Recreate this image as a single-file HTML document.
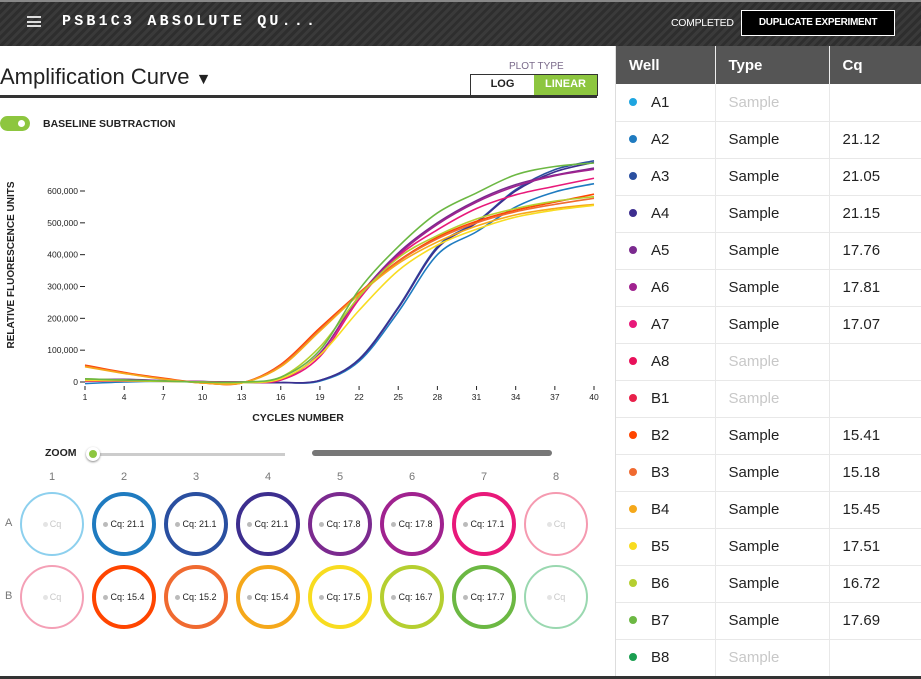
<!DOCTYPE html>
<html><head><meta charset="utf-8">
<style>
*{box-sizing:border-box;margin:0;padding:0}
body{width:921px;height:679px;overflow:hidden;background:#fff;font-family:"Liberation Sans",sans-serif;position:relative;color:#222}
.abs{position:absolute}
#topbar{left:0;top:0;width:921px;height:46px;background:repeating-linear-gradient(135deg,#2e2e2e 0 3px,#3a3a3a 3px 6px);border-top:2px solid #888}
#title{left:62px;top:13px;color:#fff;font-family:"Liberation Mono",monospace;font-weight:bold;font-size:15px;letter-spacing:3.2px}
#menu{left:27px;top:16px;width:14px;height:11px;border-top:2px solid #ddd;border-bottom:2px solid #ddd}
#menu:after{content:"";position:absolute;left:0;top:2.5px;width:14px;height:2px;background:#ddd}
#completed{left:671px;top:17px;color:#fff;font-size:10.5px;letter-spacing:-0.3px}
#dup{left:741px;top:10px;width:154px;height:26px;background:#000;border:1.5px solid #fff;color:#fff;font-weight:bold;font-size:10px;letter-spacing:-0.3px;text-align:center;line-height:23px}
#panel{left:615px;top:46px;width:306px;height:630px;border-left:1px solid #ddd}
table{border-collapse:collapse;width:306px;font-size:15px}
th{background:#555;color:#fff;height:38px;text-align:left;padding-left:13px;font-size:15px;border-right:1px solid #eee}
td{height:37px;border-bottom:1px solid #e8e8e8;border-right:1px solid #e8e8e8;padding-left:13px}
.dot{display:inline-block;width:8px;height:8px;border-radius:50%;margin-right:14px;vertical-align:1px}
.muted{color:#c8c8c8}
#bottomline{left:0;top:676px;width:921px;height:3px;background:#333}
</style></head><body>
<div id="topbar" class="abs"></div>
<div id="menu" class="abs"></div>
<div id="title" class="abs">PSB1C3 ABSOLUTE QU...</div>
<div id="completed" class="abs">COMPLETED</div>
<div id="dup" class="abs">DUPLICATE EXPERIMENT</div>

<div class="abs" style="left:0;top:64px;font-size:22px;color:#222">Amplification Curve <span style="font-size:16px">▼</span></div>
<div class="abs" style="left:0;top:95px;width:597px;height:3px;background:#333"></div>
<div class="abs" style="left:509px;top:61px;font-size:10px;color:#7a6a8a">PLOT TYPE</div>
<div class="abs" style="left:470px;top:74px;width:128px;height:22px;border:1.5px solid #333;display:flex;font-size:11px;font-weight:bold">
<div style="flex:1;text-align:center;line-height:19px">LOG</div>
<div style="flex:1;text-align:center;line-height:19px;background:#8dc63f;color:#fff">LINEAR</div></div>
<div class="abs" style="left:0;top:116px;width:30px;height:15px;border-radius:8px;background:#8dc63f"><div style="position:absolute;left:15px;top:1px;width:13px;height:13px;border-radius:50%;background:#fff;border:3px solid #8dc63f"></div></div>
<div class="abs" style="left:43px;top:118px;font-size:10.5px;font-weight:bold">BASELINE SUBTRACTION</div>

<svg class="abs" style="left:0;top:140px" width="610" height="300" id="chart"></svg>

<div class="abs" style="left:45px;top:447px;font-size:10.5px;font-weight:bold">ZOOM</div>
<div class="abs" style="left:88px;top:453px;width:197px;height:3px;background:#ccc"></div>
<div class="abs" style="left:86px;top:447px;width:14px;height:14px;border-radius:50%;background:#fff;box-shadow:0 1px 2px #888"><div style="margin:3px;width:8px;height:8px;border-radius:50%;background:#8dc63f"></div></div>
<div class="abs" style="left:312px;top:450px;width:240px;height:6px;border-radius:3px;background:#777"></div>
<div id="plate"></div>

<div id="panel" class="abs">
<table><thead><tr><th style="width:99px">Well</th><th style="width:114px">Type</th><th>Cq</th></tr></thead><tbody id="tb"></tbody></table>
</div>
<div id="bottomline" class="abs"></div>

<script>
const cycles=[1,4,7,10,13,16,19,22,25,28,31,34,37,40];
const yTicks=[0,100000,200000,300000,400000,500000,600000];
const xTicks=[1,4,7,10,13,16,19,22,25,28,31,34,37,40];
const seriesNames=["A2","A3","A4","A5","A6","A7","B2","B3","B4","B5","B6","B7"];
const seriesColors=["#1f7bc0","#2a4fa0","#3d2e8f","#7b2a8f","#a0228f","#e8197a","#ff4500","#f06a30","#f5a81a","#f8dc20","#b5cf30","#6cb843"];
const sA2=[-5,0,2,1,0,-2,3,65,220,400,472,550,597,623];
const sA3=[3,6,3,1,-1,-2,5,72,235,425,503,604,667,695];
const sA4=[5,8,4,1,-1,-2,5,70,232,420,500,600,660,690];
const sA5=[8,8,4,1,0,8,90,270,405,500,570,620,650,672];
const sA6=[6,6,3,1,0,8,90,268,400,495,565,615,648,668];
const sA7=[2,3,2,1,0,6,80,260,395,478,545,588,615,640];
const sB2=[53,30,12,-3,-3,55,170,280,380,455,505,540,565,590];
const sB3=[50,28,10,-3,-3,52,165,278,378,450,500,535,558,577];
const sB4=[48,27,9,-3,-3,48,160,275,372,440,490,525,545,558];
const sB5=[5,4,2,0,-2,10,85,225,350,430,480,518,540,555];
const sB6=[10,6,3,0,-1,15,110,268,390,460,512,545,568,582];
const sB7=[10,6,3,0,0,15,100,290,425,531,594,651,677,688];
const seriesVals=[sA2,sA3,sA4,sA5,sA6,sA7,sB2,sB3,sB4,sB5,sB6,sB7];
const wellCq=["","21.12","21.05","21.15","17.76","17.81","17.07","","","15.41","15.18","15.45","17.51","16.72","17.69",""];
const plateA=["Cq","Cq: 21.1","Cq: 21.1","Cq: 21.1","Cq: 17.8","Cq: 17.8","Cq: 17.1","Cq"];
const plateB=["Cq","Cq: 15.4","Cq: 15.2","Cq: 15.4","Cq: 17.5","Cq: 16.7","Cq: 17.7","Cq"];

const NS="http://www.w3.org/2000/svg";
const svg=document.getElementById('chart');
const X=c=>85+(c-1)*(594-85)/39;
const Y=v=>242-v*(191/600000);
function mk(t,a,p){const e=document.createElementNS(NS,t);for(const k in a)e.setAttribute(k,a[k]);(p||svg).appendChild(e);return e;}
yTicks.forEach(v=>{
 const t=mk('text',{x:78,y:Y(v)+3,'text-anchor':'end','font-size':8.5,fill:'#222','font-family':'Liberation Sans,sans-serif'});
 t.textContent=v.toLocaleString('en-US');
 
 
 mk('line',{x1:80,x2:85,y1:Y(v),y2:Y(v),stroke:'#222','stroke-width':1});
});
xTicks.forEach(c=>{
 mk('line',{x1:X(c),x2:X(c),y1:246,y2:250,stroke:'#222'});
 const t=mk('text',{x:X(c),y:260,'text-anchor':'middle','font-size':8.5,fill:'#222','font-family':'Liberation Sans,sans-serif'});
 t.textContent=c;
 
 
});
let t=mk('text',{x:298,y:281,'text-anchor':'middle','font-size':10.5,'font-weight':'bold',fill:'#222','font-family':'Liberation Sans,sans-serif'});
t.textContent='CYCLES NUMBER';


t=mk('text',{x:0,y:0,transform:'translate(14,125) rotate(-90)','text-anchor':'middle','font-size':10,'font-weight':'bold',fill:'#222','font-family':'Liberation Sans,sans-serif'});
t.textContent='RELATIVE FLUORESCENCE UNITS';


seriesVals.forEach((vals,i)=>{
 const pts=vals.map((v,j)=>[X(cycles[j]),Y(v*1000)]);
 let d='M'+pts[0][0]+','+pts[0][1];
 for(let j=0;j<pts.length-1;j++){
  const p0=pts[j-1]||pts[j],p1=pts[j],p2=pts[j+1],p3=pts[j+2]||p2;
  d+=' C'+(p1[0]+(p2[0]-p0[0])/6)+','+(p1[1]+(p2[1]-p0[1])/6)+' '+(p2[0]-(p3[0]-p1[0])/6)+','+(p2[1]-(p3[1]-p1[1])/6)+' '+p2[0]+','+p2[1];
 }
 const path=mk('path',{d:d,fill:'none',stroke:seriesColors[i],'stroke-width':1.6});
 
 
});

const plate=document.getElementById('plate');
const ringA=["#8dd0ee","#1f7bc0","#2a4fa0","#3d2e8f","#7b2a8f","#a0228f","#e8197a","#f59ab0"];
const ringB=["#f4a0b6","#ff4500","#f06a30","#f5a81a","#f8dc20","#b5cf30","#6cb843","#9ad8b0"];
function add(html,name,inter){const d=document.createElement('div');d.className='abs';d.innerHTML=html;plate.appendChild(d);
 
 
 return d;}
for(let c=0;c<8;c++){
 const cx=52+c*72;
 const l=add(String(c+1),'column-label','false');l.style.cssText+=`left:${cx-10}px;top:471px;width:20px;text-align:center;font-size:11px;color:#777`;
 [[plateA,ringA,524],[plateB,ringB,597]].forEach(([labels,rings,cy],r)=>{
  const empty=labels[c]==='Cq';
  const w=add(`<span style="display:inline-block;width:5px;height:5px;border-radius:50%;background:${empty?'#e4e4e4':'#bbb'};margin-right:2px;vertical-align:1px"></span>${labels[c]}`,'well-'+(r?'b':'a')+(c+1),'true');
  w.style.cssText+=`left:${cx-32}px;top:${cy-32}px;width:64px;height:64px;border-radius:50%;border:${empty?2:4}px solid ${rings[c]};display:flex;align-items:center;justify-content:center;font-size:9px;color:${empty?'#c8c8c8':'#222'}`;
 });
}
['A','B'].forEach((r,i)=>{const l=add(r,'row-label','false');l.style.cssText+=`left:5px;top:${517+i*73}px;font-size:11px;color:#777`;});

const wells=["A1","A2","A3","A4","A5","A6","A7","A8","B1","B2","B3","B4","B5","B6","B7","B8"];
const dotColors=["#1ea5e0","#1f7bc0","#2a4fa0","#3d2e8f","#7b2a8f","#a0228f","#e8197a","#e8105a","#e8204a","#ff4500","#f06a30","#f5a81a","#f8dc20","#b5cf30","#6cb843","#1a9e50"];
const tb=document.getElementById('tb');
wells.forEach((w,i)=>{
 const tr=document.createElement('tr');
 
 
 const m=wellCq[i]===''?' class="muted"':'';
 tr.innerHTML=`<td><span class="dot" style="background:${dotColors[i]}"></span>${w}</td><td${m}>Sample</td><td>${wellCq[i]}</td>`;
 tb.appendChild(tr);
});
</script>
</body></html>
